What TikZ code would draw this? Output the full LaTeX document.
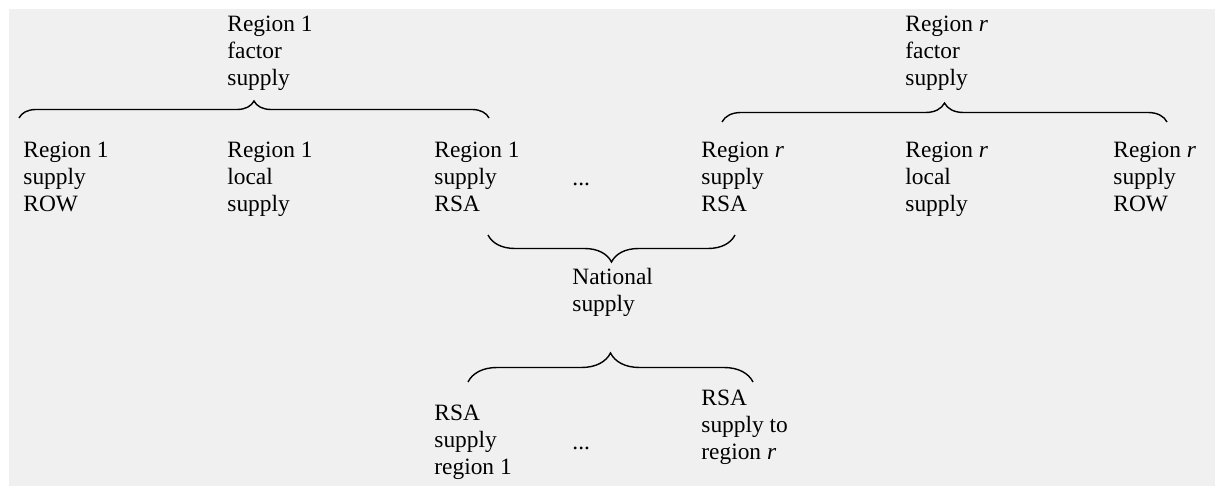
\documentclass[tikz,border=0pt]{standalone}
\usepackage{fontspec}
\setmainfont{Liberation Serif}
\usetikzlibrary{decorations.pathreplacing}
\definecolor{panel}{RGB}{240,240,240}

\begin{document}
\begin{tikzpicture}[x=0.5pt, y=-0.5pt,
        lbl/.style={anchor=base west, align=left, inner sep=0pt,
            font=\fontsize{11.7pt}{13.5pt}\selectfont},
        brc/.style={decorate, decoration={brace, amplitude=#1},
            line width=0.7pt}]
    \useasboundingbox (0, 0) rectangle (1215, 486);
    \fill[white] (0, 0) rectangle (1215, 486);
    \fill[panel] (9, 9) rectangle (1215, 486);

    % base west sits on the last line of each label
    \draw node[lbl] (factorOne) at (227, 86) {Region 1\\factor\\supply}
        node[lbl] (factorR) at (905, 86) {Region \textit{r}\\factor\\supply}
        node[lbl] (oneRow) at (23, 212) {Region 1\\supply\\ROW}
        node[lbl] (oneLocal) at (227, 212) {Region 1\\local\\supply}
        node[lbl] (oneRsa) at (434, 212) {Region 1\\supply\\RSA}
        node[lbl] (dotsTop) at (572, 186) {...}
        node[lbl] (rRsa) at (701, 212) {Region \textit{r}\\supply\\RSA}
        node[lbl] (rLocal) at (905, 212) {Region \textit{r}\\local\\supply}
        node[lbl] (rRow) at (1113, 212) {Region \textit{r}\\supply\\ROW}
        node[lbl] (national) at (572, 312) {National\\supply}
        node[lbl] (rsaOne) at (434, 474) {RSA\\supply\\region 1}
        node[lbl] (dotsBot) at (572, 449) {...}
        node[lbl] (rsaR) at (701, 459) {RSA\\supply to\\region \textit{r}}
        coordinate (f1a) at (19, 118)
        coordinate (f1b) at (489, 118)
        coordinate (fra) at (722, 122)
        coordinate (frb) at (1167, 122)
        coordinate (nta) at (735, 235)
        coordinate (ntb) at (488, 235)
        coordinate (rsa) at (468, 382)
        coordinate (rsb) at (753, 382);

    % \foreach \x in {0, 100, ..., 1200}
    %     \draw[red, very thin] (\x, 0) -- (\x, 486);

    \draw[brc=8.5pt] (f1a) -- (f1b);
    \draw[brc=9.5pt] (fra) -- (frb);
    \draw[brc=13.5pt] (nta) -- (ntb);
    \draw[brc=14.5pt] (rsa) -- (rsb);
\end{tikzpicture}
\end{document}
